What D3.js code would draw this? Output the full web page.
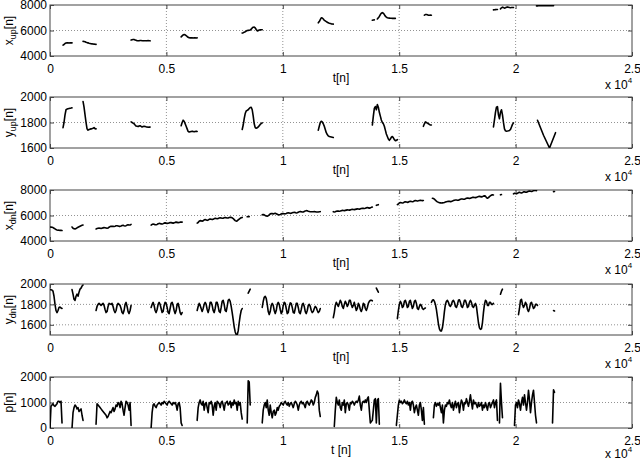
<!DOCTYPE html>
<html><head><meta charset="utf-8">
<script src="https://cdn.jsdelivr.net/npm/d3@7"></script>
<style>body{margin:0;background:#fff}svg text{font-family:"Liberation Sans",Arial,Helvetica,sans-serif}</style>
</head><body><svg id="c" width="640" height="461"></svg>
<script>
// ---- data ----
// x axis (sample index n)
const xDomain = [0, 25000];
const xTicks = [0, 5000, 10000, 15000, 20000, 25000];
const xTickLabels = ["0", "0.5", "1", "1.5", "2", "2.5"];

// each segment: [start n, step n, values]
const xUpSegs = [
  [559, 43, [4850,4900,4980,5020,5030,5030,5020,5030,5040,5030]],
  [1419, 43, [5150,5140,5120,5080,5050,5030,5000,4980,4960,4950,4940,4930,4920,4910]],
  [3483, 43, [5250,5280,5300,5290,5260,5230,5200,5190,5200,5220,5210,5200,5190,5200,5200,5190,5200,5210,5200,5190]],
  [5633, 43, [5500,5580,5650,5680,5660,5600,5530,5470,5430,5420,5430,5420,5410,5420,5420,5410,5420]],
  [8256, 43, [5800,5830,5870,5900,5950,6000,6010,6020,6040,6100,6200,6260,6270,6200,6080,5970,5990,6040,6050,6060,6060]],
  [11524, 43, [6600,6700,6850,7000,6980,6900,6800,6750,6700,6650,6600,6570,6550,6520,6510,6500]],
  [13846, 43, [6800,6820,6830]],
  [14061, 43, [6900,7000,7100,7250,7350,7400,7350,7250,7120,7050,7000,6980,6970,6960,6960,6950,6960,6950,6950]],
  [16082, 43, [7200,7250,7260,7230,7200,7200,7210,7200]],
  [19049, 43, [7620,7630,7640,7650,7650]],
  [19350, 43, [7700,7780,7830,7800,7750,7780,7820,7850,7830,7800,7790,7800,7810,7800]],
  [20898, 43, [7930,7935,7940,7945,7950,7950,7950,7945,7950,7950,7950,7955,7950,7950,7945,7950,7950,7950]]
];
const yUpSegs = [
  [559, 43, [1760,1800,1860,1900,1905,1908,1910,1912,1913,1915]],
  [1419, 43, [1965,1920,1860,1800,1750,1740,1745,1748,1750,1752,1755,1760,1752,1750]],
  [3483, 43, [1805,1800,1795,1790,1780,1772,1770,1768,1772,1775,1770,1765,1768,1770,1768,1766,1765,1763,1764,1764]],
  [5633, 43, [1775,1800,1818,1810,1790,1770,1750,1730,1725,1728,1730,1732,1730,1728,1730,1732,1730]],
  [8256, 43, [1745,1780,1830,1870,1890,1895,1900,1910,1918,1920,1900,1850,1790,1760,1755,1758,1765,1775,1785,1792,1797]],
  [11524, 43, [1740,1770,1800,1810,1805,1790,1770,1745,1720,1705,1695,1690,1688,1686,1684,1682]],
  [13846, 43, [1780,1850,1910,1925,1900,1940,1920,1880,1850,1820,1800,1790,1770,1740,1710,1690,1670,1660,1670,1685,1690,1680,1665,1658,1660,1665]],
  [16039, 43, [1770,1790,1805,1800,1795,1790,1785,1780,1780]],
  [19049, 43, [1765,1820,1880,1920,1925,1860,1830,1880,1900,1860,1800,1750,1735,1732,1733,1735,1738,1745,1765,1785,1797]],
  [20941, 258, [1818,1700,1600,1720]]
];
const xDnSegs = [
  [0, 43, [5100,5090,5080,5050,5000,4950,4900,4870,4850,4840,4830,4830,4820]],
  [946, 43, [5100,5000,4960,4950,4980,5030,5080,5120,5160,5200,5230,5250]],
  [1978, 43, [4950,4980,5000,5010,5000,4990,5000,5030,5050,5040,5020,5000,5020,5080,5130,5150,5160,5150,5140,5160,5190,5200,5180,5150,5150,5180,5220,5230,5200,5180,5200,5250,5280,5260,5250,5300]],
  [4343, 43, [5250,5300,5330,5320,5280,5270,5300,5350,5380,5370,5340,5330,5360,5400,5420,5400,5380,5390,5420,5450,5440,5420,5400,5420,5460,5480,5460,5440,5450,5480,5490,5480]],
  [6321, 43, [5400,5450,5550,5600,5580,5550,5580,5650,5680,5650,5620,5650,5700,5720,5700,5680,5700,5750,5780,5760,5740,5770,5800,5820,5800,5780,5790,5820,5850,5830,5800,5810,5840,5860,5850,5820,5760,5680,5600,5560,5580,5650,5720,5780,5820,5850]],
  [8471, 43, [5900,5920,5910]],
  [9116, 43, [6050,6080,6050,6000,5960,5950,5980,6050,6120,6160,6150,6120,6150,6170,6140,6100,6060,6050,6080,6120,6150,6160,6140,6130,6160,6200,6220,6200,6170,6180,6210,6240,6250,6230,6200,6210,6250,6300,6320,6300,6270,6280,6320,6360,6380,6370,6340,6320,6300,6290,6290,6300,6310,6300,6280,6270,6280,6290,6300]],
  [12169, 43, [6300,6280,6300,6330,6350,6340,6330,6350,6380,6400,6390,6380,6400,6420,6440,6430,6420,6440,6470,6480,6470,6460,6480,6500,6520,6510,6500,6520,6550,6570,6560,6550,6570,6600,6620,6600,6580,6600,6640,6660]],
  [14018, 43, [6800,6830,6850]],
  [14921, 43, [6850,6900,6980,7020,7000,6980,7000,7050,7080,7060,7030,7050,7100,7120,7100,7080,7100,7150,7170,7150,7130,7150,7180,7200,7180,7170,7180]],
  [16426, 43, [7350,7330,7280,7200,7130,7070,7030,7000,6990,6980,6990,7000,7020,7050,7080,7100,7120,7110,7090,7100,7130,7170,7200,7220,7210,7190,7200,7240,7280,7300,7290,7270,7280,7310,7350,7370,7360,7340,7350,7390,7420,7430,7410,7400,7420,7460,7490,7500,7480,7460,7480,7520,7540,7520,7400,7350,7400,7480,7550,7600,7620,7610]],
  [19350, 43, [7620,7640]],
  [19909, 43, [7700,7750,7720,7700,7740,7800,7820,7780,7760,7800,7850,7860,7830,7820,7860,7900,7920,7900,7880,7910,7950,7970,7960,7950]],
  [21629, 43, [7870,7880]]
];
const yDnSegs = [
  [0, 43, [1945,1945,1940,1930,1880,1800,1740,1720,1740,1770,1775,1765,1760]],
  [946, 43, [1945,1900,1850,1840,1880,1900,1880,1920,1950,1960,1980,1990]],
  [1978, 43, [1740,1780,1800,1810,1800,1790,1800,1810,1790,1750,1720,1730,1780,1810,1805,1800,1810,1780,1740,1720,1740,1790,1810,1800,1790,1760,1720,1710,1740,1800,1820,1780,1730,1710,1740,1790]],
  [4343, 43, [1770,1800,1820,1790,1740,1720,1750,1800,1820,1800,1760,1720,1730,1790,1820,1810,1770,1720,1710,1760,1810,1820,1790,1740,1710,1740,1800,1810,1770,1720,1700,1720]],
  [6321, 43, [1740,1780,1810,1790,1760,1730,1760,1800,1820,1800,1750,1720,1760,1820,1820,1790,1740,1720,1760,1820,1820,1780,1730,1720,1770,1830,1840,1800,1740,1730,1780,1840,1850,1830,1780,1720,1650,1580,1530,1505,1500,1540,1620,1690,1740,1760]],
  [8514, 43, [1910,1930,1950]],
  [9116, 43, [1770,1830,1870,1880,1860,1800,1730,1700,1730,1790,1810,1790,1740,1710,1740,1800,1820,1800,1750,1710,1730,1790,1820,1810,1760,1710,1720,1780,1815,1810,1770,1720,1715,1760,1810,1810,1770,1720,1710,1750,1800,1810,1780,1730,1710,1740,1790,1800,1780,1740,1720,1730,1760,1780,1770,1740,1720,1730,1760]],
  [12169, 43, [1670,1720,1790,1820,1800,1780,1810,1840,1820,1780,1760,1800,1830,1810,1780,1800,1840,1840,1800,1770,1790,1820,1780,1740,1760,1810,1790,1750,1730,1760,1810,1800,1760,1740,1770,1810,1830,1840,1840,1835]],
  [14018, 43, [1960,1940,1920]],
  [14921, 43, [1660,1740,1800,1830,1810,1770,1780,1830,1840,1810,1770,1780,1830,1840,1800,1760,1780,1830,1840,1810,1760,1750,1780,1800,1790,1760,1750,1760,1765]],
  [16383, 43, [1820,1840,1845,1830,1800,1750,1680,1610,1560,1540,1540,1570,1640,1730,1800,1830,1840,1820,1790,1780,1800,1830,1840,1820,1780,1770,1800,1840,1845,1820,1780,1770,1800,1840,1840,1810,1770,1780,1820,1840,1820,1780,1770,1790,1810,1780,1700,1620,1570,1555,1560,1620,1720,1800,1840,1830,1790,1790,1820,1820,1800,1800,1810]],
  [19350, 43, [1900,1930,1950]],
  [20124, 43, [1700,1760,1840,1850,1800,1770,1790,1820,1800,1750,1730,1760,1810,1820,1790,1760,1770,1800,1800,1790]],
  [21629, 43, [1740,1735]]
];
const pSegs = [
  [0, 43, [0,850,900,950,880,850,900,950,1050,1050,1000,1050,200]],
  [946, 43, [0,600,800,900,850,750,800,650,700,750,500,300]],
  [1978, 43, [150,950,900,850,800,750,700,650,600,550,500,400,450,550,650,600,700,800,650,750,900,850,1000,950,800,1050,950,700,500,800,1050,1000,900,700,1000,100]],
  [4343, 43, [0,600,900,950,850,800,900,950,1000,950,900,1000,950,1050,1000,950,900,1000,1050,1000,950,900,1000,950,1000,900,700,950,1000,800,200,100]],
  [6321, 43, [300,800,1000,1100,950,900,1050,700,950,1000,800,600,1000,950,1050,900,500,850,1000,700,1050,1000,950,800,1000,1050,900,700,950,1000,1050,900,950,1050,800,1000,900,1100,950,1000,700,1050,900,1000,600,350]],
  [8471, 43, [200,1850,1800,900]],
  [9116, 43, [200,700,900,1000,800,1100,700,500,900,600,400,650,700,500,600,800,700,850,900,1000,950,900,1000,1050,950,900,1000,850,950,1000,900,800,950,1050,1000,900,700,900,1000,1050,950,1000,900,800,1000,1050,950,900,1000,1100,1050,900,1000,1200,1300,1450,1350,700,450]],
  [12212, 43, [60,700,1200,1000,900,1100,800,700,1000,900,1100,600,950,1000,900,700,1000,950,1050,1000,900,1000,1050,1000,1100,1250,900,700,1000,1050,1000,1100,1000,1150,1220,700,200,250,300,700,1100,1150,200,1100,1150,150]],
  [14878, 43, [100,500,900,1100,1000,1050,950,1000,1100,1000,950,1050,900,1000,700,1000,1050,900,600,800,900,700,500,900,1000,700,300,800,150]],
  [16469, 43, [400,900,1000,850,950,900,1000,800,600,900,200,700,900,850,1000,950,1100,900,800,1000,700,900,1050,800,950,1000,600,900,1100,1000,700,1000,950,1150,1000,850,1050,1300,1000,750,1100,950,1000,900,800,1000,850,900,1000,700,900,800,1000,850,700,950,1000,800,900,1000,1100,800,1000,1100,300]],
  [19307, 43, [200,1750,1000,400]],
  [19952, 43, [100,900,1000,800,1100,950,700,1000,1200,900,1300,1000,700,1000,1480,1100,600,1000,1300,1480,1000,500,200]],
  [21586, 43, [200,1500,1400]]
];

const yDomains = [[4000,8000],[1600,2000],[4000,8000],[1500,2000],[0,2000]];
const yTicks = [[4000,6000,8000],[1600,1800,2000],[4000,6000,8000],[1600,1800,2000],[0,1000,2000]];
const yNames = [["x","up"],["y","up"],["x","dn"],["y","dn"],["p",""]];
const xLabels = ["t[n]","t[n]","t[n]","t[n]","t [n]"];
const series = [xUpSegs, yUpSegs, xDnSegs, yDnSegs, pSegs];

// ---- layout ----
const L = 50, R = 632;
const tops = [5, 97, 190, 284, 377];
const H = 51;

const svg = d3.select("#c");
const x = d3.scaleLinear().domain(xDomain).range([L, R]);
const line = d3.line();

series.forEach((segs, k) => {
  const top = tops[k], bot = top + H;
  const y = d3.scaleLinear().domain(yDomains[k]).range([bot, top]);
  const g = svg.append("g");
  const cid = "clip" + k;
  svg.append("clipPath").attr("id", cid).append("rect")
    .attr("x", L).attr("y", top).attr("width", R - L).attr("height", H);

  // grid
  g.selectAll(".gx").data(xTicks.slice(1, -1)).join("line")
    .attr("x1", d => x(d)).attr("x2", d => x(d)).attr("y1", top).attr("y2", bot)
    .attr("stroke", "#777").attr("stroke-width", 0.8).attr("stroke-dasharray", "1,2");
  g.selectAll(".gy").data(yTicks[k].filter(v => v > yDomains[k][0] && v < yDomains[k][1])).join("line")
    .attr("x1", L).attr("x2", R).attr("y1", d => y(d)).attr("y2", d => y(d))
    .attr("stroke", "#777").attr("stroke-width", 0.8).attr("stroke-dasharray", "1,2");

  // axes via d3 (inward ticks)
  const ax = g.append("g").attr("transform", `translate(0,${bot})`)
    .call(d3.axisBottom(x).tickValues(xTicks).tickFormat((d, i) => xTickLabels[i]).tickSizeInner(-4).tickSizeOuter(0).tickPadding(8));
  const ay = g.append("g").attr("transform", `translate(${L},0)`)
    .call(d3.axisLeft(y).tickValues(yTicks[k]).tickFormat(d3.format("d")).tickSizeInner(-4).tickSizeOuter(0).tickPadding(3));
  const axT = g.append("g").attr("transform", `translate(0,${top})`)
    .call(d3.axisTop(x).tickValues(xTicks).tickFormat("").tickSizeInner(-4).tickSizeOuter(0));
  const ayR = g.append("g").attr("transform", `translate(${R},0)`)
    .call(d3.axisRight(y).tickValues(yTicks[k]).tickFormat("").tickSizeInner(-4).tickSizeOuter(0));
  [ax, ay, axT, ayR].forEach(a => {
    a.select(".domain").remove();
    a.selectAll("line").attr("stroke", "#444");
    a.selectAll("text").attr("fill", "#000").style("font-size", "12px");
  });
  // box
  g.append("rect").attr("x", L).attr("y", top).attr("width", R - L).attr("height", H)
    .attr("fill", "none").attr("stroke", "#444").attr("stroke-width", 1);

  // data
  const dg = g.append("g").attr("clip-path", `url(#${cid})`);
  segs.forEach(([t0, dt, vals]) => {
    const pts = vals.map((v, i) => [x(t0 + i * dt), y(v)]);
    dg.append("path").attr("d", line(pts)).attr("fill", "none")
      .attr("stroke", "#000").attr("stroke-width", 1.6).attr("stroke-linejoin", "round").attr("stroke-linecap", "round");
  });

  // x label
  svg.append("text").attr("x", (L + R) / 2).attr("y", bot + 26).attr("text-anchor", "middle")
    .style("font-size", "12px").text(xLabels[k]);
  // x 10^4
  const e = svg.append("text").attr("x", 605).attr("y", Math.min(bot + 33, 458)).style("font-size", "12px");
  e.append("tspan").text("x 10");
  e.append("tspan").attr("dy", -6).style("font-size", "8px").text("4");

  // y label
  const yl = svg.append("text").attr("transform", `translate(13,${(top + bot) / 2}) rotate(-90)`)
    .attr("text-anchor", "middle").style("font-size", "12px");
  yl.append("tspan").text(yNames[k][0]);
  if (yNames[k][1]) {
    yl.append("tspan").attr("dy", 3).style("font-size", "9px").text(yNames[k][1]);
    yl.append("tspan").attr("dy", -3).text("[n]");
  } else {
    yl.append("tspan").text("[n]");
  }
});
</script></body></html>
